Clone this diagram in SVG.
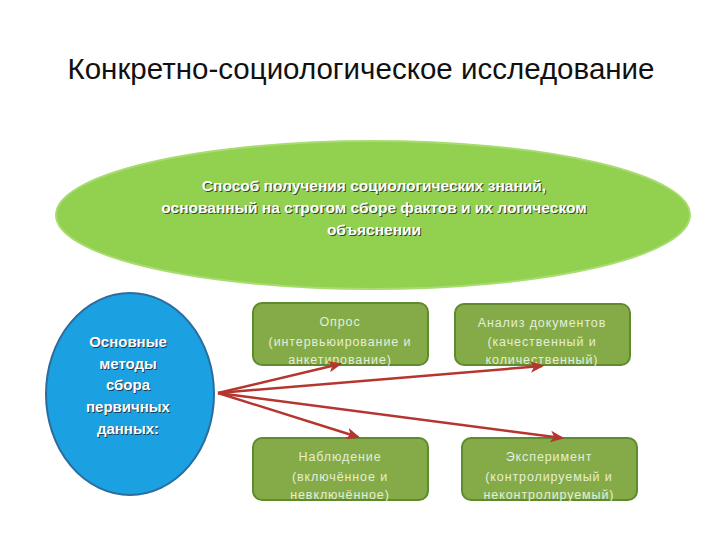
<svg xmlns="http://www.w3.org/2000/svg" width="720" height="540" viewBox="0 0 720 540">
<defs>
<style>
.title{font-family:"Liberation Sans",Arial,sans-serif;font-size:29px;fill:#111}
.ell{font-family:"Liberation Sans",Arial,sans-serif;font-size:15.5px;font-weight:bold;fill:#fff;text-anchor:middle}
.sh{fill:#3a4a2a;font-family:"Liberation Sans",Arial,sans-serif;font-size:15.5px;font-weight:bold;text-anchor:middle}
.circ{font-family:"Liberation Sans",Arial,sans-serif;font-size:15px;font-weight:bold;fill:#fff;text-anchor:middle}
.csh{font-family:"Liberation Sans",Arial,sans-serif;font-size:15px;font-weight:bold;fill:#1d3d55;text-anchor:middle}
.box rect{fill:#84ab47;stroke:#5f8a2e;stroke-width:2}
.bt{font-family:"Liberation Sans",Arial,sans-serif;font-size:12.5px;fill:#e6eed8;text-anchor:middle;letter-spacing:0.9px}
.arr{stroke:#b5352f;stroke-width:2.5;fill:none;marker-end:url(#ah)}
</style>
<marker id="ah" viewBox="0 0 12 10" refX="10" refY="5" markerWidth="5.5" markerHeight="5" orient="auto">
<path d="M0,0 L12,5 L0,10 L3,5 z" fill="#b5352f"/>
</marker>
</defs>
<rect width="720" height="540" fill="#fff"/>
<text class="title" x="361" y="79" text-anchor="middle" textLength="587" lengthAdjust="spacingAndGlyphs">Конкретно-социологическое исследование</text>

<g id="definition">
<ellipse cx="373" cy="215" rx="317" ry="74" fill="#92d050" stroke="#a8dc70" stroke-width="2"/>
<text class="sh" x="375" y="192">Способ получения социологических знаний,</text>
<text class="sh" x="375" y="214">основанный на строгом сборе фактов и их логическом</text>
<text class="sh" x="375" y="236">объяснении</text>
<text class="ell" x="374" y="191">Способ получения социологических знаний,</text>
<text class="ell" x="374" y="213">основанный на строгом сборе фактов и их логическом</text>
<text class="ell" x="374" y="235">объяснении</text>
</g>

<g id="methods">
<ellipse cx="130" cy="394" rx="84" ry="101" fill="#1ba1e2" stroke="#2b6e9e" stroke-width="2"/>
<g>
<text class="csh" x="129" y="348">Основные</text>
<text class="csh" x="129" y="370">методы</text>
<text class="csh" x="129" y="391">сбора</text>
<text class="csh" x="129" y="413">первичных</text>
<text class="csh" x="129" y="435">данных:</text>
<text class="circ" x="128" y="347">Основные</text>
<text class="circ" x="128" y="369">методы</text>
<text class="circ" x="128" y="390">сбора</text>
<text class="circ" x="128" y="412">первичных</text>
<text class="circ" x="128" y="434">данных:</text>
</g>
</g>

<g id="survey" class="box">
<rect x="253" y="303" width="175" height="62" rx="9"/>
<text class="bt" x="340" y="326">Опрос</text>
<text class="bt" x="340" y="346">(интервьюирование и</text>
<text class="bt" x="340" y="364">анкетирование)</text>
</g>

<g id="documents" class="box">
<rect x="455" y="304" width="175" height="61" rx="9"/>
<text class="bt" x="542" y="327">Анализ документов</text>
<text class="bt" x="542" y="346">(качественный и</text>
<text class="bt" x="542" y="364">количественный)</text>
</g>

<g id="observation" class="box">
<rect x="253" y="438" width="175" height="62" rx="9"/>
<text class="bt" x="340" y="461">Наблюдение</text>
<text class="bt" x="340" y="481">(включённое и</text>
<text class="bt" x="340" y="499">невключённое)</text>
</g>

<g id="experiment" class="box">
<rect x="462" y="438" width="175" height="62" rx="9"/>
<text class="bt" x="549" y="461">Эксперимент</text>
<text class="bt" x="549" y="481">(контролируемый и</text>
<text class="bt" x="549" y="499">неконтролируемый)</text>
</g>

<g id="connectors">
<line class="arr" x1="218" y1="393" x2="340" y2="364"/>
<line class="arr" x1="218" y1="393" x2="542" y2="366"/>
<line class="arr" x1="218" y1="393" x2="358" y2="437"/>
<line class="arr" x1="218" y1="393" x2="562" y2="438"/>
</g>
</svg>
